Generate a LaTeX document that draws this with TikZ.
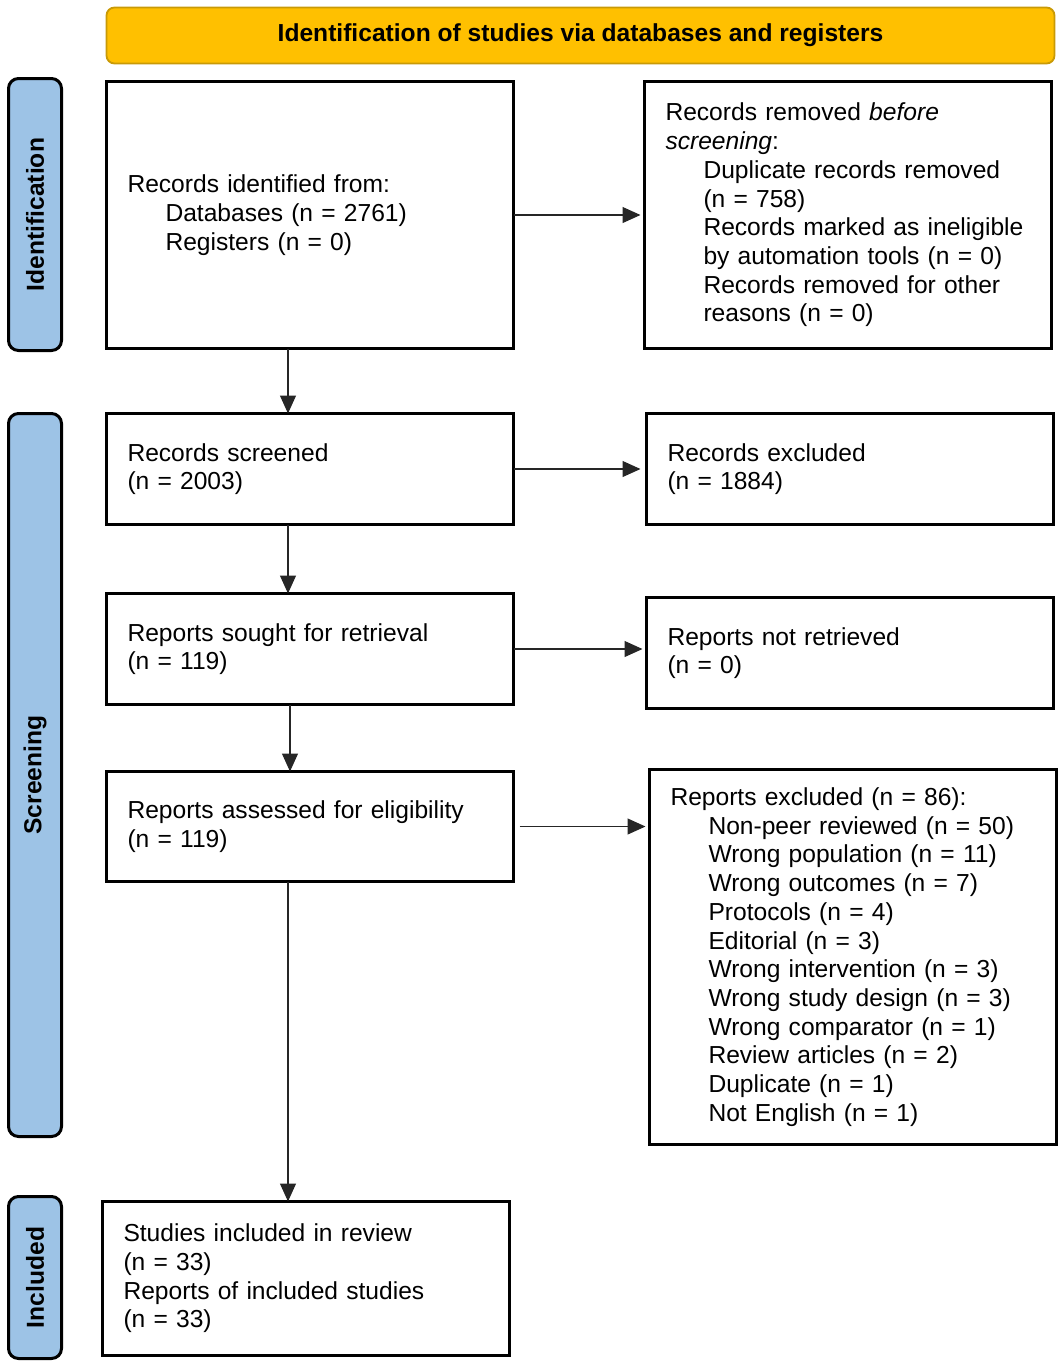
\documentclass[tikz,border=0pt]{standalone}
\usepackage{fontspec}
\setmainfont{Liberation Sans}
\usetikzlibrary{arrows.meta,positioning}
\definecolor{headorange}{HTML}{FFC000}
\definecolor{headborder}{HTML}{C99A06}
\definecolor{barblue}{HTML}{9DC3E6}
\newcommand{\ind}{\hspace*{19pt}}

\begin{document}
\begin{tikzpicture}[x=0.5pt,y=-0.5pt,node distance=32pt]
    \tikzset{
      flowbox/.style={rectangle,draw=black,line width=1.5pt,outer sep=0pt,inner xsep=10.5pt,inner ysep=0pt,text width=182.5pt,align=left,font=\fontsize{12.3}{14.35}\selectfont},
      phasebar/.style={rectangle,rounded corners=5pt,draw=black,line width=1.5pt,fill=barblue,rotate=90,minimum height=26.5pt,inner sep=0pt,font=\bfseries\fontsize{12.3}{14.35}\selectfont},
      headbar/.style={rectangle,rounded corners=4pt,draw=headborder,line width=0.9pt,fill=headorange,minimum width=474pt,minimum height=28pt,inner sep=0pt,font=\bfseries\fontsize{12.3}{14.35}\selectfont},
      arrow/.style={-{Triangle[length=9pt,width=8pt]},line width=0.6pt,draw=black!85}
    }
    \useasboundingbox (0,0) rectangle (1063,1367);
    \node[headbar](header) at (580.5,35.5){Identification of studies via databases and registers};
    \node[phasebar,minimum width=136pt](identbar) at (35,214.5){Identification};
    \node[phasebar,minimum width=361.5pt](screenbar) at (35,775){Screening};
    \node[phasebar,minimum width=81pt](inclbar) at (35,1277.5){Included};

    \node[flowbox,minimum height=133.5pt,anchor=north west](identified) at (106.5,81.5){Records identified from:\\ \ind Databases (n = 2761)\\ \ind Registers (n = 0)};
    \node[flowbox,minimum height=133.5pt,right=65.5pt of identified](removed){Records removed \textit{before}\\ \textit{screening}:\\ \ind Duplicate records removed\\ \ind (n = 758)\\ \ind Records marked as ineligible\\ \ind by automation tools (n = 0)\\ \ind Records removed for other\\ \ind reasons (n = 0)};
    \node[flowbox,minimum height=55.5pt,below=32.5pt of identified](screened){Records screened\\ (n = 2003)};
    \node[flowbox,minimum height=55.5pt,right=66.5pt of screened](excluded){Records excluded\\ (n = 1884)};
    \node[flowbox,minimum height=55.5pt,below=34.5pt of screened](sought){Reports sought for retrieval\\ (n = 119)};
    \node[flowbox,minimum height=55.5pt,right=66.5pt of sought,yshift=-2pt](notretrieved){Reports not retrieved\\ (n = 0)};
    \node[flowbox,minimum height=55pt,below=33.5pt of sought](assessed){Reports assessed for eligibility\\ (n = 119)};
    \node[flowbox,minimum height=187.5pt,anchor=north west](reportsexcluded) at ([xshift=68pt,yshift=1pt]assessed.north east){Reports excluded (n = 86):\\ \ind Non-peer reviewed (n = 50)\\ \ind Wrong population (n = 11)\\ \ind Wrong outcomes (n = 7)\\ \ind Protocols (n = 4)\\ \ind Editorial (n = 3)\\ \ind Wrong intervention (n = 3)\\ \ind Wrong study design (n = 3)\\ \ind Wrong comparator (n = 1)\\ \ind Review articles (n = 2)\\ \ind Duplicate (n = 1)\\ \ind Not English (n = 1)};
    \node[flowbox,minimum height=77pt,below=160pt of assessed,xshift=-2pt](included){Studies included in review\\ (n = 33)\\ Reports of included studies\\ (n = 33)};

    \draw[arrow](identified.east) -- ([xshift=-2pt]removed.west);
    \draw[arrow](screened.east) -- ([xshift=-3pt]excluded.west);
    \draw[arrow](sought.east) -- ([xshift=-2pt]notretrieved.west |- sought.east);
    \draw[arrow]([xshift=3pt]assessed.east) -- ([xshift=-2pt]reportsexcluded.west |- assessed.east);
    \draw[arrow]([xshift=-11pt]identified.south) -- ([xshift=-11pt]screened.north);
    \draw[arrow]([xshift=-11pt]screened.south) -- ([xshift=-11pt]sought.north);
    \draw[arrow]([xshift=-10pt]sought.south) -- ([xshift=-10pt]assessed.north);
    \draw[arrow]([xshift=-11pt]assessed.south) -- ([xshift=-11pt]assessed.south |- included.north);

  \end{tikzpicture}
\end{document}
